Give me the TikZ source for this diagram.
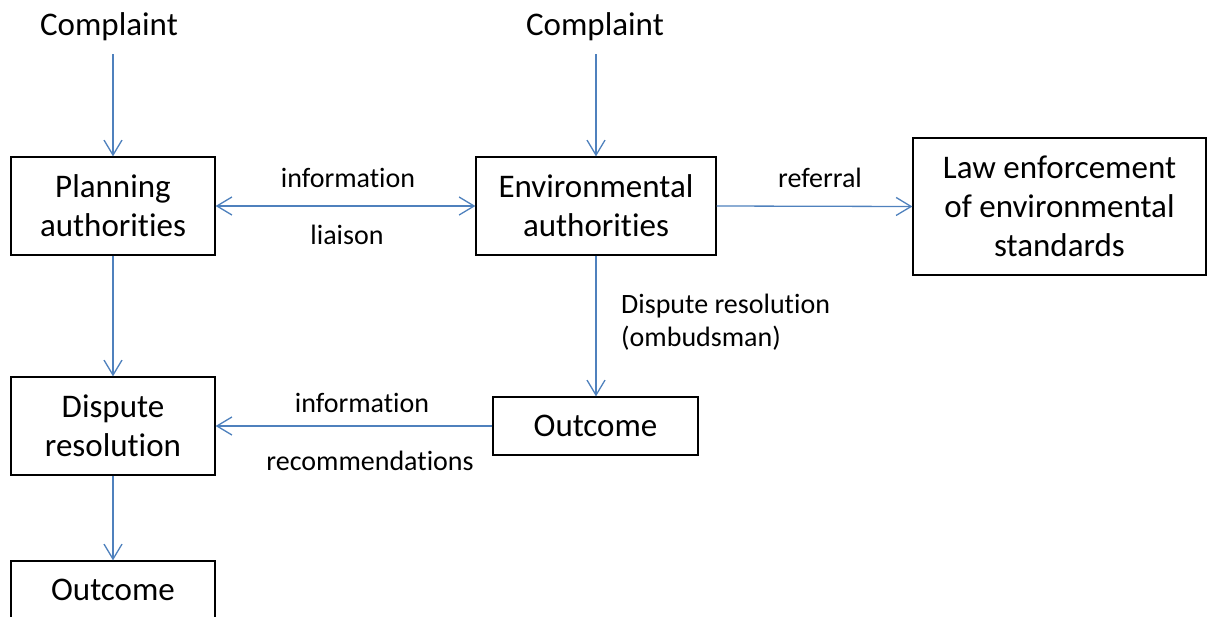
\documentclass[tikz,border=0pt]{standalone}
\usepackage{fontspec}
\setmainfont{Carlito}[Ligatures=NoCommon]
\usetikzlibrary{arrows.meta}
\definecolor{flowblue}{RGB}{79,129,189}
\begin{document}
\begin{tikzpicture}[x=1pt,y=-1pt,
  box/.style={draw=black, line width=1.3pt, inner sep=0pt, align=center,
    font=\fontsize{33}{39}\selectfont},
  lbl/.style={inner sep=0pt, anchor=base, font=\fontsize{28}{34}\selectfont},
  head/.style={inner sep=0pt, anchor=base, text depth=19pt,
    font=\fontsize{33}{39}\selectfont},
  flow/.style={draw=flowblue, line width=1.3pt,
    -{Straight Barb[length=15pt,width=18pt]}},
  flow2/.style={draw=flowblue, line width=1.3pt,
    {Straight Barb[length=15pt,width=18pt]}-{Straight Barb[length=15pt,width=18pt]}}]
  \useasboundingbox (0,0) rectangle (1207,616);

  % boxes
  \node[box, minimum width=204pt, minimum height=98pt] (plan) at (113,206) {Planning\\authorities};
  \node[box, minimum width=240pt, minimum height=98pt] (env) at (596,206) {Environmental\\authorities};
  \node[box, minimum width=293pt, minimum height=137pt] (law) at (1059.5,206.5) {Law enforcement\\of environmental\\standards};
  \node[box, minimum width=204pt, minimum height=98pt] (disp) at (113,426) {Dispute\\resolution};
  \node[box, minimum width=205pt, minimum height=58pt] (outr) at (595.5,426) {Outcome};
  \node[box, minimum width=204pt, minimum height=58pt] (outb) at (113,590) {Outcome};

  % incoming complaints
  \node[head] (c1) at (109,35) {Complaint};
  \node[head] (c2) at (595,35) {Complaint};

  % connectors
  \draw[flow] (c1.south -| plan.north) -- (plan.north);
  \draw[flow] (c2.south -| env.north) -- (env.north);
  \draw[flow2] (plan.east) -- (env.west);
  \draw[flow] (env.east) -- (law.west);
  \draw[flow] (env.south) -- (env.south |- outr.north);
  \draw[flow] (outr.west) -- (disp.east |- outr.west);
  \draw[flow] (plan.south) -- (disp.north);
  \draw[flow] (disp.south) -- (outb.north);

  % connector labels
  \node[lbl] (l1) at (348,187) {information};
  \node[lbl] (l2) at (347,244) {liaison};
  \node[lbl] (l3) at (820,187) {referral};
  \node[lbl, anchor=base west, align=left, font=\fontsize{28}{33}\selectfont] (l4) at (621,346) {Dispute resolution\\(ombudsman)};
  \node[lbl] (l5) at (362,412) {information};
  \node[lbl] (l6) at (370,470) {recommendations};
\end{tikzpicture}
\end{document}
